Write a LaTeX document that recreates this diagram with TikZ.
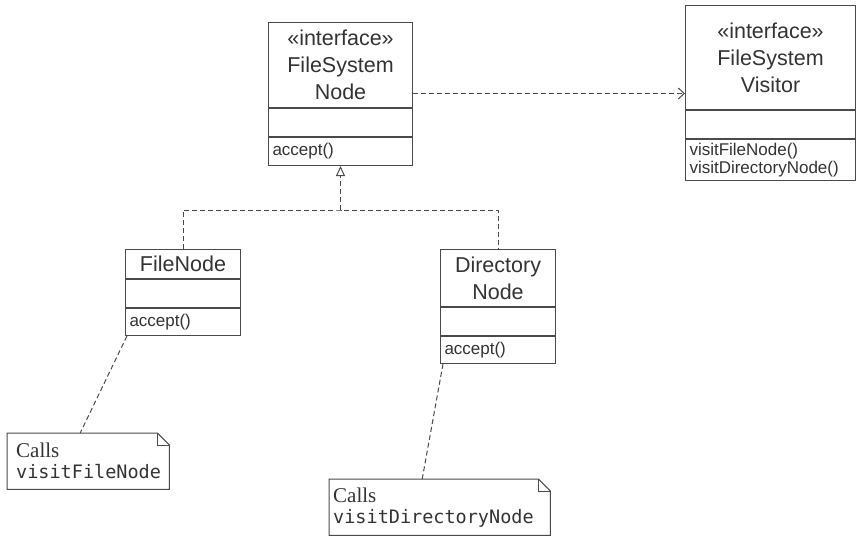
\documentclass[tikz,border=0pt]{standalone}
\usepackage{fontspec}
\setmainfont{Liberation Serif}
\newfontfamily\umlsans{Liberation Sans}
\newfontfamily\umlmono{DejaVu Sans Mono}
\usetikzlibrary{arrows.meta,positioning}
\definecolor{umlline}{HTML}{4A4A4A}
\definecolor{umltext}{HTML}{333333}

\begin{document}
\begin{tikzpicture}[x=1pt,y=-1pt,node distance=0pt,
head/.style={draw=umlline,line width=1pt,inner sep=0pt,align=center,text=umltext,font=\umlsans\fontsize{21.5}{27}\selectfont},
slot/.style={draw=umlline,line width=1pt,inner xsep=4pt,inner ysep=0pt,align=left,text=umltext,font=\umlsans\fontsize{17}{18}\selectfont},
memo/.style={inner ysep=0pt,align=left,text=umltext,font=\fontsize{21}{21}\selectfont},
edge/.style={draw=umlline,line width=1pt},
dep/.style={edge,dash pattern=on 5pt off 3pt}]
\useasboundingbox (0,0) rectangle (856,536);
% interface FileSystemNode
\node[head,minimum width=144pt,minimum height=85pt,anchor=north west] (fsnHead) at (268,22) {«interface»\\FileSystem\\Node};
\node[slot,text width=136pt,minimum height=28pt,below=of fsnHead] (fsnAttr) {};
\node[slot,text width=136pt,minimum height=28pt,below=of fsnAttr] (fsnOps) {accept()};
% interface FileSystemVisitor
\node[head,minimum width=170pt,minimum height=104pt,anchor=north west] (fsvHead) at (685,5) {«interface»\\FileSystem\\Visitor};
\node[slot,text width=162pt,minimum height=28pt,below=of fsvHead] (fsvAttr) {};
\node[slot,text width=162pt,minimum height=41pt,below=of fsvAttr] (fsvOps) {visitFileNode()\\visitDirectoryNode()};
% FileNode
\node[head,minimum width=115pt,minimum height=29pt,anchor=north west] (fileHead) at (125,249) {FileNode};
\node[slot,text width=107pt,minimum height=28pt,below=of fileHead] (fileAttr) {};
\node[slot,text width=107pt,minimum height=27pt,below=of fileAttr] (fileOps) {accept()};
% DirectoryNode
\node[head,minimum width=115pt,minimum height=57pt,anchor=north west] (dirHead) at (440,249) {Directory\\Node};
\node[slot,text width=107pt,minimum height=28pt,below=of dirHead] (dirAttr) {};
\node[slot,text width=107pt,minimum height=27pt,below=of dirAttr] (dirOps) {accept()};
% notes
\node[memo,inner xsep=9pt,text width=144pt,minimum height=56pt,anchor=north west] (fileMemo) at (7,433) {Calls\\{\umlmono\fontsize{18.5}{21}\selectfont visitFileNode}};
\node[memo,inner xsep=4pt,text width=213pt,minimum height=56pt,anchor=north west] (dirMemo) at (329,479) {Calls\\{\umlmono\fontsize{18.5}{21}\selectfont visitDirectoryNode}};
\foreach \m in {fileMemo,dirMemo}{
  \draw[edge] (\m.north west)--([xshift=-12pt]\m.north east)--([yshift=-12pt]\m.north east)--(\m.south east)--(\m.south west)--cycle;
  \draw[edge] ([xshift=-12pt]\m.north east)|-([yshift=-12pt]\m.north east);
}
% connectors
\coordinate[below=44pt of fsnOps.south] (fork);
\draw[dep] (fileHead.north)|-(fork)-|(dirHead.north);
\draw[dep,-{Triangle[open,length=10pt,width=9pt]}] (fork)--(fsnOps.south);
\draw[dep,-{Straight Barb[length=6pt,width=11pt]}] ([yshift=-28.5pt]fsnHead.east)--([yshift=-28.5pt]fsnHead.east -| fsvHead.west);
\draw[dep] ([xshift=2pt]fileOps.south west)--([xshift=-8pt]fileMemo.north);
\draw[dep] ([xshift=3pt]dirOps.south west)--([xshift=-17.5pt]dirMemo.north);
\end{tikzpicture}
\end{document}
